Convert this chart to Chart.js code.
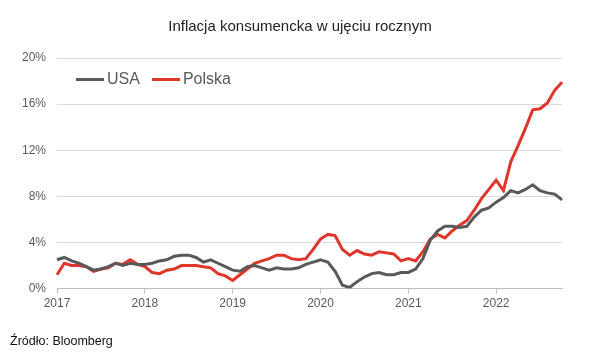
<!DOCTYPE html>
<html>
<head>
<meta charset="utf-8">
<script src="https://cdn.jsdelivr.net/npm/chart.js@4/dist/chart.umd.min.js"></script>
<style>
  body { margin: 0; background: #fff; }
  #wrap { position: relative; width: 600px; height: 360px; font-family: "Liberation Sans", Arial, sans-serif; }
  #title { position: absolute; top: 17px; left: 0; width: 600px; text-align: center; font-size: 15px; color: #222; }
  #legend { position: absolute; top: 70px; left: 76px; font-size: 16px; color: #595959; display: flex; gap: 12px; }
  #legend span.item { display: flex; align-items: center; }
  #legend span.swatch { display: inline-block; width: 28px; height: 3px; margin-right: 3px; }
  #source { position: absolute; top: 334px; left: 10px; font-size: 12.5px; color: #111; }
</style>
</head>
<body>
<div id="wrap">
  <div id="title">Inflacja konsumencka w ujęciu rocznym</div>
  <canvas id="chart" width="600" height="360"></canvas>
  <div id="legend"></div>
  <div id="source">Źródło: Bloomberg</div>
</div>
<script>
// miesiące od 01.2017 do 10.2022
var years = [2017, 2018, 2019, 2020, 2021, 2022];
var labels = [];
years.forEach(function(y) {
    for (var m = 1; m <= 12; m++) {
        if (y === 2022 && m > 10) break;
        labels.push(m === 1 ? String(y) : y + "-" + m);
    }
});

var usa = [2.5, 2.7, 2.4, 2.2, 1.9, 1.6, 1.7, 1.9, 2.2, 2.0, 2.2, 2.1,
           2.1, 2.2, 2.4, 2.5, 2.8, 2.9, 2.9, 2.7, 2.3, 2.5, 2.2, 1.9,
           1.6, 1.5, 1.9, 2.0, 1.8, 1.6, 1.8, 1.7, 1.7, 1.8, 2.1, 2.3,
           2.5, 2.3, 1.5, 0.3, 0.1, 0.6, 1.0, 1.3, 1.4, 1.2, 1.2, 1.4,
           1.4, 1.7, 2.6, 4.2, 5.0, 5.4, 5.4, 5.3, 5.4, 6.2, 6.8, 7.0,
           7.5, 7.9, 8.5, 8.3, 8.6, 9.0, 8.5, 8.3, 8.2, 7.7];
var polska = [1.2, 2.2, 2.0, 2.0, 1.9, 1.5, 1.7, 1.8, 2.2, 2.1, 2.5, 2.1,
              1.9, 1.4, 1.3, 1.6, 1.7, 2.0, 2.0, 2.0, 1.9, 1.8, 1.3, 1.1,
              0.7, 1.2, 1.7, 2.2, 2.4, 2.6, 2.9, 2.9, 2.6, 2.5, 2.6, 3.4,
              4.3, 4.7, 4.6, 3.4, 2.9, 3.3, 3.0, 2.9, 3.2, 3.1, 3.0, 2.4,
              2.6, 2.4, 3.2, 4.3, 4.7, 4.4, 5.0, 5.5, 5.9, 6.8, 7.8, 8.6,
              9.4, 8.5, 11.0, 12.4, 13.9, 15.5, 15.6, 16.1, 17.2, 17.9];
var yTicks = [0, 4, 8, 12, 16, 20];

var series = [
    { label: "USA", data: usa, color: "#595959" },
    { label: "Polska", data: polska, color: "#e0352b" }
];

var legend = document.getElementById("legend");
series.forEach(function(s) {
    var item = document.createElement("span");
    item.className = "item";
    item.innerHTML = '<span class="swatch" style="background:' + s.color + '"></span>' + s.label;
    legend.appendChild(item);
});

new Chart(document.getElementById("chart"), {
    type: "line",
    data: {
        labels: labels,
        datasets: series.map(function(s) {
            return {
                label: s.label,
                data: s.data,
                borderColor: s.color,
                backgroundColor: s.color,
                borderWidth: 3,
                pointRadius: 0,
                tension: 0
            };
        })
    },
    options: {
        responsive: false,
        animation: false,
        layout: { padding: { left: 11, right: 38, top: 58, bottom: 46 } },
        plugins: {
            legend: { display: false },
            tooltip: { enabled: false }
        },
        scales: {
            x: {
                offset: false,
                border: { color: "#bfbfbf" },
                grid: {
                    drawOnChartArea: false,
                    tickLength: 5,
                    color: function(ctx) { return ctx.index % 12 === 0 ? "#bfbfbf" : "rgba(0,0,0,0)"; }
                },
                ticks: {
                    autoSkip: false,
                    maxRotation: 0,
                    color: "#595959",
                    font: { family: "Liberation Sans", size: 12 },
                    callback: function(v, i) { return i % 12 === 0 ? labels[i] : ""; }
                }
            },
            y: {
                min: 0,
                max: 20,
                afterBuildTicks: function(axis) { axis.ticks = yTicks.map(function(v) { return { value: v }; }); },
                border: { display: false },
                grid: { color: "#d9d9d9", drawTicks: false },
                ticks: {
                    padding: 11,
                    color: "#595959",
                    font: { family: "Liberation Sans", size: 12 },
                    callback: function(v) { return v + "%"; }
                }
            }
        }
    }
});
</script>
</body>
</html>
